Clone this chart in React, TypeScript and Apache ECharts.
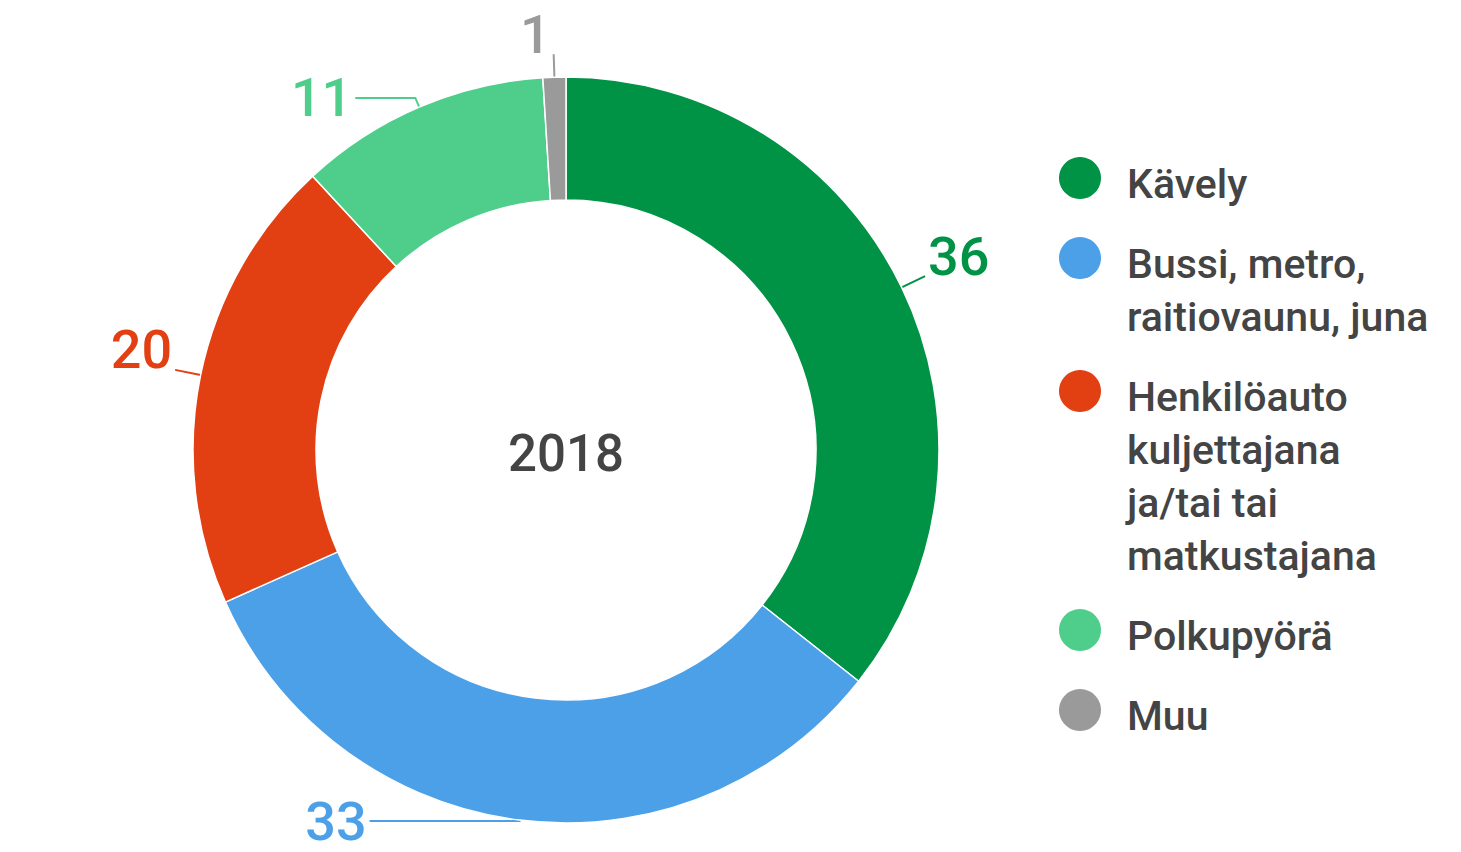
import React, { useEffect, useRef } from 'react';
import * as echarts from 'echarts';

const categories = [
  'Kävely',
  'Bussi, metro,\nraitiovaunu, juna',
  'Henkilöauto\nkuljettajana\nja/tai tai\nmatkustajana',
  'Polkupyörä',
  'Muu',
];
const values = [36, 33, 20, 11, 1];
const colors = ['#009245', '#4BA0E8', '#E23F12', '#4FCD8B', '#9A9A9A'];
const centerLabel = '2018';

// label layout (not data)
const lineLen = [26, 1, 26, 10, 23];
const lineLen2 = [0, 150, 0, 60, 0];
const labelRaised = [true, false, true, false, true];

const FONT = 'Roboto, "Noto Sans", sans-serif';

export default function App() {
  const ref = useRef<HTMLDivElement>(null);
  useEffect(() => {
    if (!ref.current) return;
    const chart = echarts.init(ref.current, undefined, { renderer: 'svg' });

    const lh = 53;
    const d = 6;
    const gap = 27;
    const legends: any[] = [];
    let c = 178;
    categories.forEach((name, i) => {
      const n = name.split('\n').length;
      const hs = (n - 1) * lh + 2 * d;
      legends.push({
        data: [name],
        orient: 'vertical',
        left: 1059,
        top: c - (hs + n * lh) / 2,
        padding: 0,
        itemWidth: 84,
        itemHeight: 42,
        itemGap: 0,
        icon: 'circle',
        itemStyle: { borderWidth: 0 },
        selectedMode: false,
        formatter: (nm: string) =>
          '{s| }\n' + nm.split('\n').map((l) => '{t|' + l + '}').join('\n'),
        textStyle: {
          rich: {
            s: { fontSize: 1, lineHeight: hs, height: hs },
            t: {
              fontFamily: FONT,
              fontSize: 41,
              fontWeight: 500,
              color: '#444444',
              lineHeight: lh,
            },
          },
        },
      });
      c += n * lh + gap;
    });

    chart.setOption({
      animation: false,
      backgroundColor: '#ffffff',
      legend: legends,
      graphic: [
        {
          type: 'text',
          x: 566,
          y: 453,
          style: {
            text: centerLabel,
            fontFamily: FONT,
            fontSize: 51,
            fontWeight: 500,
            fill: '#444444',
            align: 'center',
            verticalAlign: 'middle',
          },
        },
      ],
      series: [
        {
          type: 'pie',
          radius: [250, 373],
          center: [566, 450],
          startAngle: 90,
          clockwise: true,
          avoidLabelOverlap: false,
          emphasis: { disabled: true },
          itemStyle: { borderColor: '#ffffff', borderWidth: 1.5 },
          label: {
            show: true,
            position: 'outside',
            distanceToLabelLine: 3,
            rich: {
              v: { fontFamily: FONT, fontSize: 54, fontWeight: 500, lineHeight: 44 },
              s: { fontSize: 1, lineHeight: 40, height: 40 },
            },
          },
          labelLine: { show: true, length: 25, length2: 0, lineStyle: { width: 2 } },
          data: categories.map((name, i) => ({
            name,
            value: values[i],
            itemStyle: { color: colors[i] },
            label: {
              color: colors[i],
              formatter: labelRaised[i] ? '{v|{c}}\n{s| }' : '{v|{c}}',
            },
            labelLine: {
              length: lineLen[i],
              length2: lineLen2[i],
              lineStyle: { color: colors[i], width: 2 },
            },
          })),
        },
      ],
    });
    return () => chart.dispose();
  }, []);
  return (
    <div
      ref={ref}
      style={{ position: 'absolute', left: 0, top: 0, width: 1461, height: 852 }}
    />
  );
}
